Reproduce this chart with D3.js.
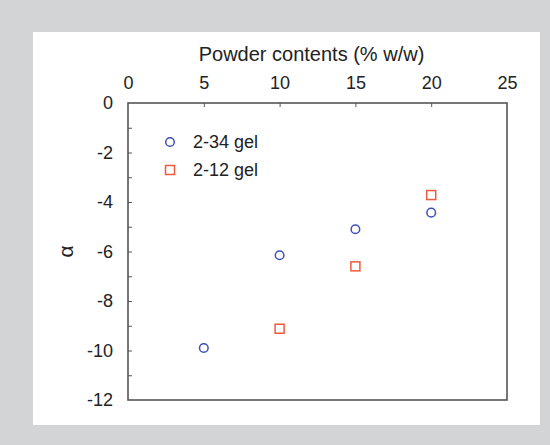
<!DOCTYPE html>
<meta charset="utf-8">
<style>
html, body {
  margin: 0;
  background: #d3d4d6;
}

.chart text {
  font-family: "Liberation Sans", Arial, sans-serif;
  fill: #222;
}

.chart .frame,
.chart .tick line {
  stroke: #555;
}
</style>
<body>
<svg class="chart" width="550" height="445"></svg>

<script src="https://d3js.org/d3.v7.min.js"></script>
<script>
"use strict";

var xTicks = [0, 5, 10, 15, 20, 25],
  yTicks = [0, -2, -4, -6, -8, -10, -12],
  seriesNames = ["2-34 gel", "2-12 gel"],
  gel234X = [5, 10, 15, 20],
  gel234Y = [-9.9, -6.15, -5.1, -4.43],
  gel212X = [10, 15, 20],
  gel212Y = [-9.12, -6.6, -3.72];

var margin = { top: 103, left: 128 },
  width = 507 - 128,
  height = 400 - 103;

var svg = d3.select(".chart");

svg.append("rect")
  .attr("x", 33).attr("y", 32)
  .attr("width", 507).attr("height", 393)
  .attr("fill", "#fff");

var g = svg.append("g")
  .attr("transform", "translate(" + margin.left + "," + margin.top + ")");

var x = d3.scaleLinear().domain([0, 25]).range([0, width]);
var y = d3.scaleLinear().domain([0, -12]).range([0, height]);

// top axis, ticks pointing into the plot
var xAxis = g.append("g")
  .call(d3.axisTop(x).tickValues(xTicks).tickSizeInner(-4).tickSizeOuter(0).tickPadding(14));
xAxis.select(".domain").remove();
xAxis.selectAll(".tick line").filter(function(d) { return d === 0 || d === 25; }).remove();
xAxis.selectAll("text").attr("font-size", 18);

var yAxis = g.append("g")
  .call(d3.axisLeft(y).ticks(12).tickSizeInner(-4).tickSizeOuter(0).tickPadding(15)
    .tickFormat(function(d) { return yTicks.indexOf(d) >= 0 ? d : ""; }));
yAxis.select(".domain").remove();
yAxis.selectAll(".tick line").filter(function(d) { return d === 0 || d === -12; }).remove();
yAxis.selectAll("text").attr("font-size", 18);

g.append("rect")
  .attr("class", "frame")
  .attr("width", width).attr("height", height)
  .attr("fill", "none")
  .attr("stroke-width", 1.6);

svg.append("text")
  .attr("x", margin.left + x(12.5) - 6)
  .attr("y", 61)
  .attr("text-anchor", "middle")
  .attr("font-size", 20)
  .text("Powder contents (% w/w)");

svg.append("text")
  .attr("transform", "translate(73," + (margin.top + y(-6)) + ") rotate(-90)")
  .attr("text-anchor", "middle")
  .attr("font-size", 21)
  .text("α");

var blue = "#3f4fb3", red = "#ef5a3c";

g.selectAll(".c234")
  .data(gel234X)
  .join("circle")
  .attr("class", "c234")
  .attr("cx", function(d) { return x(d); })
  .attr("cy", function(d, i) { return y(gel234Y[i]); })
  .attr("r", 4.3)
  .attr("fill", "none")
  .attr("stroke", blue)
  .attr("stroke-width", 1.5);

g.selectAll(".s212")
  .data(gel212X)
  .join("rect")
  .attr("class", "s212")
  .attr("x", function(d) { return x(d) - 4.5; })
  .attr("y", function(d, i) { return y(gel212Y[i]) - 4.5; })
  .attr("width", 9).attr("height", 9)
  .attr("fill", "none")
  .attr("stroke", red)
  .attr("stroke-width", 1.5);

// legend
var legend = svg.append("g").attr("transform", "translate(170,142)");
legend.append("circle").attr("r", 4.3).attr("fill", "none").attr("stroke", blue).attr("stroke-width", 1.5);
legend.append("text").attr("x", 23).attr("y", 6).attr("font-size", 18).text(seriesNames[0]);
legend.append("rect").attr("x", -4.5).attr("y", 23.5).attr("width", 9).attr("height", 9)
  .attr("fill", "none").attr("stroke", red).attr("stroke-width", 1.5);
legend.append("text").attr("x", 23).attr("y", 34).attr("font-size", 18).text(seriesNames[1]);
</script>
</body>
